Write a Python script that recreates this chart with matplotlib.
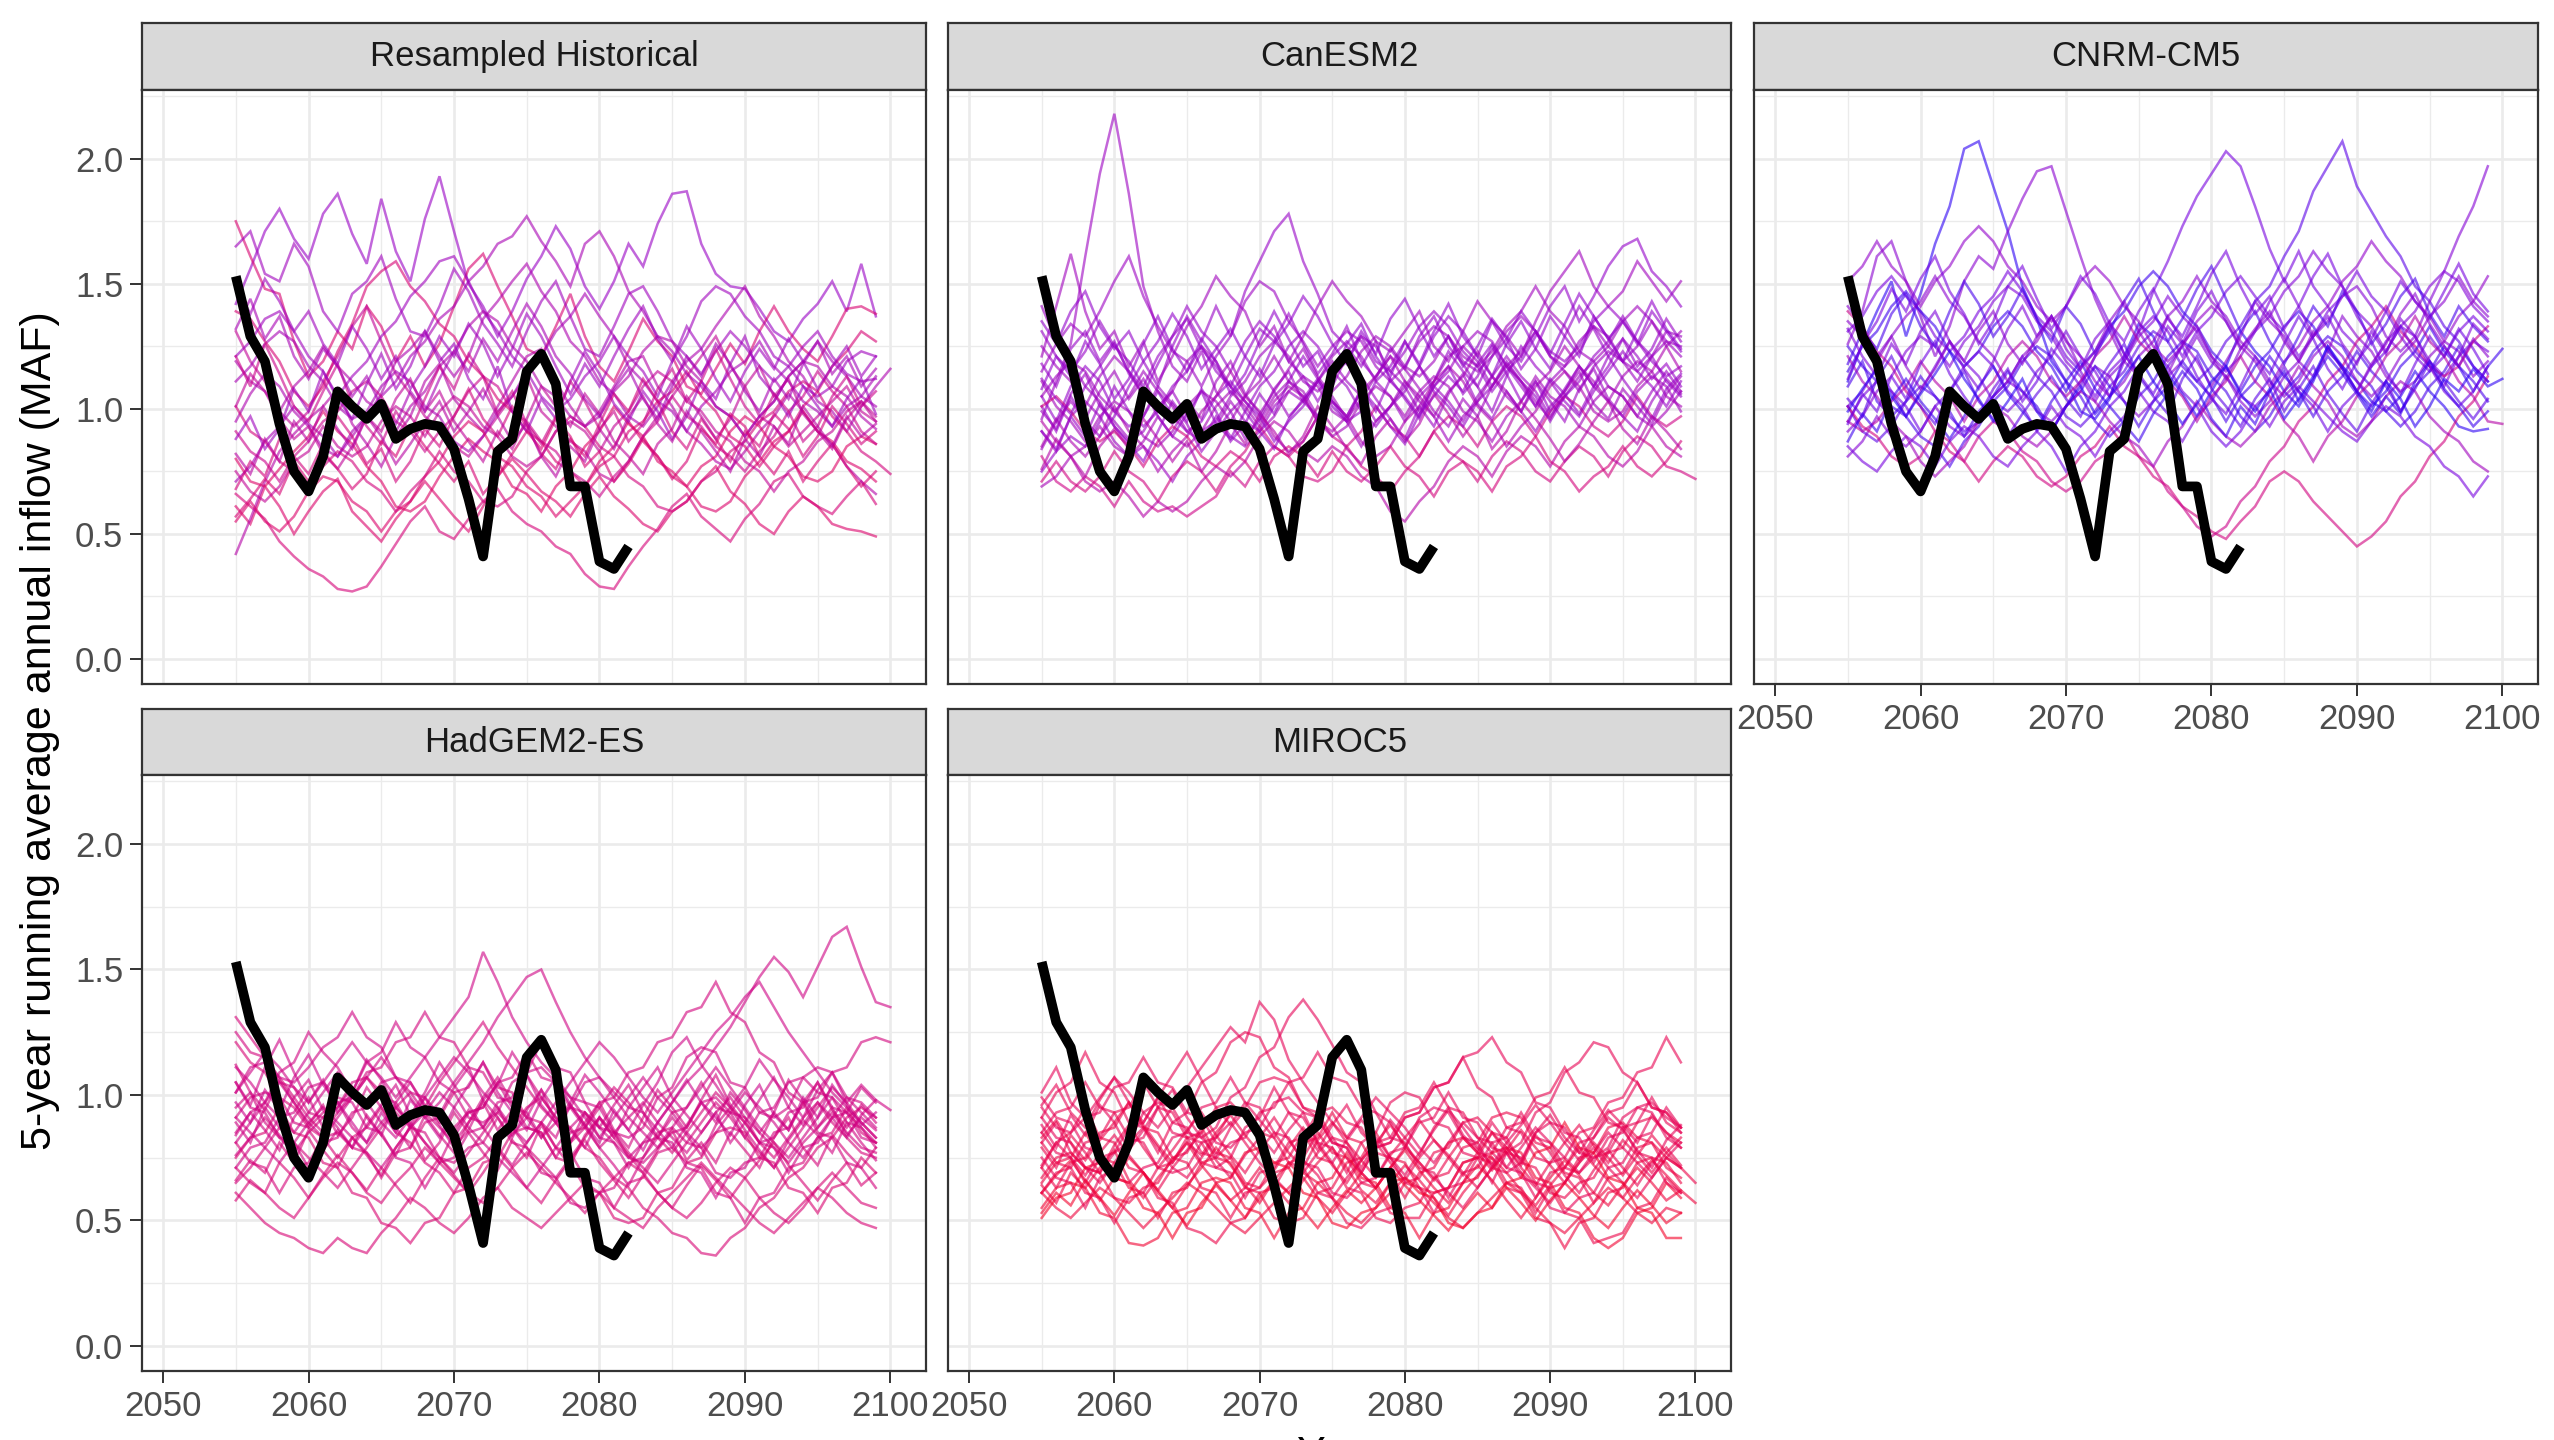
import numpy as np
import matplotlib
matplotlib.use("Agg")
import matplotlib.pyplot as plt
from matplotlib.colors import LinearSegmentedColormap
from matplotlib.ticker import MultipleLocator

plt.rcParams['font.family'] = ['Liberation Sans', 'DejaVu Sans']

# observed 5-year running average (MAF), starts 2055
OBS_START = 2055
OBSERVED = [1.53, 1.29, 1.19, 0.94, 0.75, 0.67, 0.81, 1.07, 1.01, 0.96, 1.02, 0.88, 0.92, 0.94,
            0.93, 0.84, 0.64, 0.41, 0.83, 0.88, 1.15, 1.22, 1.10, 0.69, 0.69, 0.39, 0.36, 0.45]

# ensemble traces, one per line, hundredths of MAF, starting 2055
TRACE_START = 2055

RESAMPLED_HIST = """
142 156 171 180 168 160 178 186 170 158 184 163 151 176 193 171 150 141 129 139 152 161 173 164 149 140 151 166 157 174 186 187 166 154 149 148 140 131 127 136 142 151 139 158 137
175 161 148 146 127 113 119 131 124 141 133 119 129 117 126 141 156 162 149 137 124 121 133 146 129 117 111 123 136 127 121 109 106 116 126 118 131 141 131 124 119 129 140 141 138
61 54 69 61 50 59 67 72 59 53 47 56 63 71 64 57 51 61 73 80 74 67 63 57 66 73 65 60 54 51 59 63 71 77 67 62 54 50 59 65 61 54 52 51 49
66 61 56 47 41 36 33 28 27 29 37 46 55 61 51 48 56 63 68 59 54 51 45 42 34 29 28 37 45 52 61 66 57 52 47 56 62 71 74 65 61 58 65 71 62
42 56 71 83 90 96 101 108 94 86 77 89 97 111 118 104 97 91 101 111 121 124 111 101 93 99 109 119 121 109 101 91 86 79 76 83 91 97 106 99 91 86 77 71 66
165 171 154 151 166 157 139 131 146 151 161 144 131 129 141 156 147 134 126 117 131 143 151 137 124 121 133 146 149 139 127 121 114 123 131 125 117 111 117 125 131 121 114 111 112
131 119 111 99 93 99 111 121 133 141 127 114 106 97 92 85 81 89 97 105 113 99 93 87 83 74 71 79 89 97 105 113 121 129 117 109 97 93 85 91 97 103 109 99 95
95 106 114 109 99 93 84 81 89 97 106 119 124 131 121 113 121 136 143 151 158 147 139 127 121 111 106 97 93 101 111 119 124 133 141 149 137 129 119 113 103 99 91 101 109 116
80 71 69 76 83 89 99 91 86 77 71 61 59 63 73 81 88 83 79 69 66 59 69 75 85 91 101 94 89 79 75 69 77 81 91 97 93 85 81 73 71 75 85 89 86
111 117 126 131 127 117 111 101 96 99 109 115 111 101 97 87 83 89 99 105 115 121 131 137 146 137 129 117 111 103 99 91 101 107 115 119 127 117 111 103 99 93 101 105 113
139 136 127 119 107 101 109 123 134 149 155 159 149 143 134 129 119 113 104 99 91 87 79 75 69 77 81 91 95 103 107 115 105 99 89 85 77 85 91 101 107 117 123 131 127
71 77 87 93 101 94 89 81 91 97 105 111 121 127 136 141 151 157 166 169 177 167 159 149 166 171 161 147 139 129 123 114 109 101 97 89 97 103 113 119 127 119 113 105 101
55 63 55 51 57 67 73 71 63 59 51 59 63 73 79 89 95 91 81 77 69 65 57 63 69 79 85 95 87 81 73 69 61 59 63 73 79 87 91 99 91 87 79 76 71
121 127 136 139 131 121 115 105 113 119 129 135 145 151 159 161 151 139 131 121 115 105 99 104 113 119 129 121 115 105 119 129 143 149 146 137 131 121 117 109 105 109 119 123 121
91 83 79 71 81 87 95 99 107 111 105 95 91 83 91 97 107 113 109 99 95 87 83 75 71 65 73 79 89 95 105 97 93 85 81 75 83 89 99 105 115 107 101 91 86
101 91 87 79 75 69 77 83 79 71 67 59 67 73 83 75 71 63 61 65 75 81 91 97 93 85 81 73 69 61 59 63 71 75 83 87 95 99 107 111 107 97 91 83 79 74
119 111 107 99 109 115 125 117 111 103 99 91 101 107 117 123 133 139 135 125 119 109 105 97 93 97 107 113 123 129 127 117 111 101 97 89 97 103 113 119 117 109 105 97 92
75 67 63 69 79 83 93 85 81 85 95 101 97 89 99 105 101 93 89 81 77 81 91 95 91 83 93 99 109 115 111 103 99 91 87 79 75 67 75 79 87 91 99 103 97
88 97 84 92 108 99 115 104 96 110 122 108 117 131 119 126 112 104 117 99 91 104 96 111 123 114 102 95 107 99 88 97 111 104 118 129 113 106 97 109 101 93 104 112 98
121 109 126 114 101 95 107 118 102 93 86 99 91 104 117 108 122 113 98 107 94 86 97 111 103 92 99 87 94 108 116 103 111 124 112 101 94 106 99 87 93 105 113 101 107
68 79 73 88 81 74 86 97 89 78 84 71 79 92 85 97 108 96 89 101 93 82 76 88 81 94 106 99 112 103 91 84 96 88 79 91 85 98 92 81 89 101 94 86 91
149 138 152 143 131 139 126 118 133 124 112 121 108 117 129 121 134 126 113 124 138 129 117 106 118 109 121 132 141 128 119 133 124 112 103 115 124 116 128 119 108 117 125 113 121
101 114 107 96 88 93 82 76 85 97 91 104 112 99 107 95 87 79 91 84 96 109 101 93 106 98 87 81 74 86 92 105 97 88 96 109 117 105 112 98 91 84 96 103 95
57 64 72 66 79 71 83 76 68 74 87 81 93 85 78 71 79 66 73 82 91 84 96 89 77 83 71 78 88 81 72 79 92 86 98 93 81 74 83 71 79 86 77 69 75
132 144 128 137 121 112 124 117 105 113 101 94 107 99 112 123 115 128 119 131 142 133 121 114 104 97 108 116 104 96 109 121 113 126 118 107 99 112 104 118 127 114 121 109 116
82 74 88 79 95 87 101 92 84 97 89 78 86 95 103 91 99 108 97 87 94 81 73 85 79 92 84 97 105 94 87 99 91 83 75 88 81 93 86 101 93 85 97 89 94
"""
HUE_RESAMPLED_HIST = [75, 38, 36, 42, 62, 72, 55, 66, 34, 68, 40, 68, 36, 72, 50, 44, 64, 55,
                      72, 50, 44, 72, 56, 40, 68, 60]

CANESM2 = """
96 111 126 161 194 218 186 149 131 117 111 123 107 99 105 116 107 97 103 111 119 111 105 95 101 109 117 109 103 95 105 113 121 113 107 97 105 113 119 109 105 97 107 115 107
101 91 105 95 89 97 109 119 109 125 137 127 141 129 147 159 171 178 159 146 131 125 117 127 111 105 97 111 123 115 109 99 113 125 117 111 103 97 107 115 123 115 109 101 111
121 141 162 139 124 131 117 127 111 121 133 141 153 145 139 125 133 119 129 141 151 143 137 127 123 131 139 125 119 131 143 135 129 121 135 147 155 163 149 141 147 159 151 143 151
105 95 109 117 111 99 93 97 107 97 91 95 105 111 103 97 87 95 101 111 101 95 99 111 117 127 117 129 137 131 121 135 125 119 129 141 149 135 145 157 165 168 155 149 141
81 71 67 73 69 61 71 63 59 61 57 61 65 75 69 79 85 81 87 97 89 85 91 101 93 89 81 91 97 93 85 95 101 97 89 99 105 101 93 89 95 105 97 93 97
91 83 97 103 97 87 81 85 79 71 81 87 97 89 85 91 101 107 103 111 121 127 121 111 105 95 105 111 121 125 119 109 117 123 131 121 115 107 117 123 119 111 121 127 121
71 79 71 67 73 83 75 71 63 73 79 75 67 77 83 93 85 81 73 71 75 85 77 73 67 75 81 91 83 79 71 81 87 83 75 71 79 85 81 73 83 89 85 77 75 72
131 121 115 123 135 125 119 109 121 129 141 131 125 115 127 135 129 119 113 103 113 119 129 119 115 123 133 139 133 123 117 107 115 121 131 123 119 125 135 141 135 127 119 113 117
111 101 95 87 97 103 99 89 85 91 101 107 103 95 105 111 121 111 105 95 89 93 103 109 105 97 107 113 109 99 95 87 97 103 113 105 101 93 103 109 105 97 93 99 107
85 96 87 81 89 101 91 85 75 83 89 99 105 115 105 99 89 83 87 97 103 97 87 81 85 95 101 111 117 111 101 95 85 93 99 109 115 109 99 95 99 109 115 125 115
95 87 81 71 67 71 65 57 63 59 63 71 77 73 79 89 95 91 83 79 85 81 73 69 59 55 63 69 79 85 81 73 83 89 85 77 87 93 89 81 77 83 93 85 81
115 126 134 129 139 151 161 145 133 123 119 109 121 129 143 151 147 135 127 117 125 131 127 117 111 117 127 133 129 119 115 121 131 137 131 121 117 123 133 125 119 125 135 127 125
101 105 99 91 87 91 85 77 87 93 89 81 77 83 79 71 81 85 81 73 83 75 71 77 85 77 73 65 75 79 75 67 77 81 89 79 75 67 73 77 85 77 73 79 87
125 117 111 101 113 121 115 105 99 107 119 125 119 109 103 95 105 111 107 97 107 113 123 129 125 117 113 119 129 121 117 123 133 139 149 139 133 123 119 125 135 141 135 125 131
75 83 89 85 95 109 99 93 99 109 115 125 115 109 99 109 115 125 131 125 115 109 99 93 101 107 117 107 101 93 103 109 119 111 105 95 105 111 121 127 137 127 121 111 105
105 113 119 115 105 99 105 115 107 101 91 87 93 103 95 91 97 107 113 109 99 95 85 95 101 111 103 97 87 97 103 113 105 99 91 101 107 117 109 103 97 107 113 109 99
69 73 81 85 93 85 81 87 97 89 85 91 101 107 101 93 103 109 105 95 91 97 107 113 121 111 105 97 107 113 123 113 107 99 109 115 125 117 111 103 113 119 115 105 101
141 127 119 109 103 93 87 91 101 107 97 91 95 105 111 121 127 121 111 107 113 123 129 125 115 109 99 109 115 125 131 127 117 111 101 111 117 127 133 129 119 115 121 131 129
108 121 113 127 118 104 112 126 137 124 115 128 119 106 114 127 139 128 117 123 111 126 134 121 113 127 118 131 142 129 121 113 126 135 124 116 129 121 137 128 119 131 143 132 124
91 84 97 89 102 93 86 79 91 103 95 108 99 87 94 106 98 111 121 112 103 95 108 99 112 104 96 109 117 106 113 125 114 103 111 99 108 117 109 121 112 104 96 108 114
118 109 124 131 119 127 114 106 118 129 136 124 117 109 121 132 127 138 126 114 122 133 119 112 124 116 129 137 125 118 109 121 128 116 124 137 129 141 132 121 128 117 124 136 127
76 88 81 73 85 92 84 96 88 79 87 75 83 94 86 98 91 82 89 101 93 84 78 89 96 87 94 106 98 89 97 84 91 103 96 88 79 86 95 103 92 86 97 91 84
135 126 139 147 133 124 131 119 127 138 129 116 124 132 121 113 126 134 145 137 126 118 131 122 136 144 132 121 129 117 125 136 128 139 131 122 134 146 137 128 135 126 139 131 123
99 92 106 114 101 95 88 97 109 102 94 83 91 99 88 96 108 115 103 97 109 121 113 104 96 88 101 93 106 114 102 96 107 99 111 103 95 108 116 104 97 91 103 112 106
112 104 98 109 117 126 115 108 97 89 98 107 94 88 99 91 84 96 104 112 103 97 108 101 93 86 98 105 113 107 118 126 117 109 101 112 106 98 109 117 128 121 112 118 109
84 95 103 96 107 115 104 112 101 94 103 96 111 119 106 98 107 116 124 113 105 96 104 113 121 116 108 99 93 104 97 109 118 111 103 96 107 115 102 96 108 101 94 106 113
"""
HUE_CANESM2 = [74, 76, 72, 77, 48, 74, 45, 76, 70, 66, 62, 74, 43, 72, 76, 72, 69, 74,
               78, 76, 76, 62, 78, 74, 76, 72]

CNRM_CM5 = """
111 126 139 151 129 146 166 181 204 207 189 171 149 136 119 111 99 96 104 121 134 129 114 106 97 107 117 131 123 117 107 101 111 125 117 111 103 99 105 115 107 101 93 91 92
126 139 161 167 151 137 121 133 151 161 156 171 184 195 197 179 161 144 131 119 113 123 137 127 119 109 119 129 143 135 129 119 113 123 137 129 123 113 107 111 121 127 123 113 119
95 105 111 107 97 107 117 127 119 113 103 99 105 115 121 131 121 115 105 119 131 147 159 173 185 194 203 197 181 164 151 163 149 141 131 125 117 127 133 129 119 113 121 127 123
101 91 87 93 103 109 105 97 91 95 105 111 121 113 107 97 93 99 109 115 125 131 127 117 111 117 127 133 143 149 161 171 187 197 207 189 179 169 161 149 143 133 127 117 111
81 87 97 89 85 91 101 93 89 95 105 111 107 99 95 101 111 117 113 103 97 103 113 119 129 119 113 103 97 103 113 119 129 135 145 149 141 129 123 129 143 155 169 181 197
101 93 89 81 77 81 91 83 79 71 79 85 81 73 69 73 81 85 93 85 81 73 69 61 57 51 48 55 61 71 75 71 63 57 51 45 49 55 65 71 81 87 97 103 113
139 133 123 117 107 101 91 87 79 89 95 91 83 79 71 67 71 79 83 91 81 77 67 61 53 49 53 63 69 79 85 95 101 111 117 127 133 141 131 125 117 113 117 127 133
131 137 147 153 145 139 129 123 129 139 145 155 147 137 131 121 115 105 115 121 131 137 131 121 131 137 147 153 145 137 131 121 129 139 145 155 145 139 129 121 115 121 131 137 131
109 119 103 97 103 113 105 99 89 99 105 115 107 101 91 101 107 117 109 103 93 103 109 119 111 105 95 105 111 121 113 107 97 107 113 123 115 109 99 109 115 125 117 111 103
91 97 107 113 123 129 125 117 127 133 143 149 145 135 129 119 113 103 113 119 129 135 145 137 131 121 115 121 131 137 147 153 163 155 149 139 133 123 133 139 149 155 151 141 135
125 117 111 101 97 89 85 77 87 93 103 109 119 125 121 111 105 95 89 95 105 111 121 127 123 113 107 97 91 97 107 113 123 129 125 115 109 99 93 99 109 115 125 117 111
151 157 167 157 151 141 151 157 167 173 167 157 151 141 135 141 151 157 151 141 135 125 119 125 135 141 135 125 119 109 119 125 135 141 151 157 167 159 153 143 137 127 137 143 153
85 79 75 83 89 85 77 87 93 89 81 77 85 91 101 93 89 81 91 97 107 99 95 87 97 103 113 105 101 93 103 109 103 97 91 87 95 101 97 89 85 77 73 65 73
115 125 131 141 147 139 133 123 117 123 133 139 133 123 117 107 117 123 133 139 149 155 149 139 133 123 117 107 117 123 133 139 133 123 117 107 101 107 117 123 133 123 117 107 117 124
101 107 117 107 101 91 101 107 117 123 117 107 101 91 85 75 85 91 101 107 117 123 117 107 101 91 85 91 101 107 117 107 101 91 101 107 117 123 133 123 117 107 101 107 117
135 129 119 129 137 143 153 143 137 127 121 111 121 127 137 127 121 111 105 111 121 127 137 143 153 143 137 127 121 111 105 111 121 127 121 111 105 111 121 127 137 143 153 143 137
95 91 95 103 109 119 111 105 95 105 111 121 127 121 111 105 111 121 127 137 127 121 111 105 95 105 111 121 111 105 95 89 79 89 95 105 111 121 127 137 127 121 111 105 95 94
121 111 105 95 89 79 73 79 85 95 101 97 89 85 91 101 107 103 95 89 85 77 87 93 103 95 89 85 91 101 107 117 109 103 93 89 95 105 111 107 97 91 87 79 75
118 131 124 138 146 133 125 139 151 142 129 137 148 136 127 141 134 122 131 143 152 139 127 136 148 157 144 131 139 127 118 129 141 133 147 139 126 134 145 152 138 129 141 133 127
94 106 99 113 104 118 127 114 105 97 108 116 103 111 124 117 109 121 133 122 114 106 117 125 113 104 98 109 121 114 126 137 128 116 108 119 127 115 106 118 129 121 132 124 114
132 121 113 126 118 131 139 127 116 108 119 132 141 129 137 124 116 128 135 122 113 121 133 126 139 147 135 124 131 143 152 141 129 137 126 118 131 122 136 129 117 109 121 134 128
104 97 112 121 109 101 94 107 115 103 96 89 98 106 113 104 97 109 118 126 113 105 98 112 121 108 101 93 104 112 99 108 117 106 98 91 102 111 99 108 119 111 103 96 104
112 126 135 148 139 152 161 147 138 126 135 149 157 144 132 141 153 146 134 127 139 148 136 129 141 154 163 149 138 145 132 141 153 162 149 137 128 139 151 143 136 147 158 146 139
87 98 91 104 112 103 96 88 97 109 117 106 99 92 103 111 119 108 101 94 87 98 106 115 108 96 89 101 94 107 115 103 112 121 114 106 97 105 98 111 119 108 101 93 99
141 133 121 129 117 108 116 127 119 131 139 126 118 129 137 128 116 123 135 143 131 122 114 126 133 121 112 124 132 139 127 119 131 124 116 107 118 126 138 146 134 125 117 128 121
99 108 116 105 97 106 114 123 112 104 95 103 112 99 91 101 109 98 105 113 121 111 103 94 102 111 117 106 99 108 96 104 113 125 116 107 99 111 104 93 101 112 107 116 109 112
"""
HUE_CNRM_CM5 = [95, 80, 86, 90, 82, 45, 50, 86, 92, 83, 92, 78, 86, 93, 88, 80, 62, 72,
                92, 88, 84, 90, 86, 93, 80, 95]

HADGEM2_ES = """
95 101 89 83 77 85 91 97 87 81 89 95 101 93 87 81 89 99 107 97 91 83 89 95 87 79 85 91 97 89 83 77 85 93 99 91 85 79 73 81 87 93 85 79 77
131 123 115 107 99 91 85 93 99 107 101 93 87 95 105 113 121 129 119 111 103 95 89 81 87 95 103 97 89 83 77 85 93 101 95 89 81 75 83 91 97 89 83 77 75
71 65 61 55 51 59 67 73 69 61 57 65 71 79 73 67 61 57 63 71 77 71 65 59 53 61 67 73 69 61 55 51 57 65 71 67 59 53 49 55 63 69 63 57 55
61 55 49 45 43 39 37 43 39 37 45 51 59 55 49 45 51 59 63 55 51 47 53 59 65 61 55 51 47 55 61 67 73 67 61 55 49 45 51 57 63 59 53 49 47
101 109 117 111 103 97 105 113 121 113 107 99 107 115 123 131 139 157 145 131 121 113 107 99 91 83 91 99 107 99 93 85 79 85 93 101 95 89 81 75 83 91 99 93 87
81 89 97 105 97 89 83 91 99 107 115 107 99 91 97 105 113 121 131 139 147 150 137 125 115 107 99 91 85 79 87 95 103 111 103 95 87 81 75 83 91 99 93 87 81
65 71 79 87 81 75 69 63 71 79 87 95 89 81 75 69 77 85 93 87 79 73 67 75 83 91 85 77 71 65 73 81 89 97 91 83 77 71 79 87 95 103 97 89 83
91 85 79 73 81 89 95 89 83 77 71 79 87 93 101 95 87 81 75 69 63 71 79 87 93 87 81 75 81 89 97 105 111 119 127 137 147 155 149 139 151 163 167 151 137 135
111 105 97 91 85 93 101 109 103 97 89 83 91 99 107 115 109 101 95 87 81 89 97 105 113 121 115 107 99 93 101 109 117 125 131 139 145 135 125 117 109 101 95 89 83
121 113 109 99 95 87 83 75 83 87 95 85 81 73 69 61 71 75 83 87 95 99 91 87 79 75 67 63 55 51 45 43 37 36 43 47 55 59 67 71 79 83 91 95 91
85 93 97 109 113 125 117 111 101 113 117 129 119 115 105 101 91 89 93 105 109 121 111 109 97 95 85 83 87 99 103 115 119 117 105 103 93 91 95 107 111 109 99 97 91
75 83 85 95 85 83 73 71 61 59 49 47 41 49 51 61 63 73 75 85 87 85 75 73 63 61 51 49 51 61 63 73 75 85 87 85 75 73 63 61 53 63 65 75 69
105 95 93 83 81 71 81 83 93 95 105 107 101 99 89 87 93 95 105 107 117 107 105 95 93 83 81 71 81 83 93 95 105 95 93 83 93 95 105 107 101 99 89 87 79
91 99 101 99 89 87 93 95 105 107 99 97 87 85 75 73 79 81 91 81 79 69 67 57 55 61 63 73 75 85 87 81 79 69 67 73 75 85 87 97 99 109 111 121 123 121
101 111 113 107 105 111 119 123 133 123 119 107 105 95 93 83 93 95 105 95 93 83 93 95 105 107 101 95 93 83 81 71 69 59 69 71 81 83 93 95 105 95 93 83 81
81 73 71 61 71 73 83 85 79 77 67 77 79 89 91 101 103 113 103 101 91 89 79 77 67 65 55 65 67 77 79 73 71 61 59 49 59 61 71 73 83 85 95 85 81
71 79 81 91 93 103 105 99 97 87 85 75 73 63 73 75 85 87 97 99 109 111 105 99 97 87 85 75 73 79 85 87 97 99 93 91 81 79 69 79 81 91 93 103 97
125 117 115 105 103 93 91 97 99 109 111 121 123 133 123 121 111 109 99 97 87 85 75 85 87 97 99 109 111 121 123 133 135 145 133 129 117 113 101 97 85 83 73 71 63
84 93 86 78 91 99 87 95 103 91 84 97 105 96 88 79 86 98 91 83 94 102 89 81 93 87 96 104 93 86 79 88 97 89 101 94 85 93 106 98 87 95 84 91 86
112 101 94 106 97 88 96 84 91 103 95 87 79 92 84 77 89 97 86 94 108 99 91 82 89 97 86 79 91 102 95 87 98 108 96 89 81 93 86 97 105 94 87 96 89
66 74 69 81 73 86 78 71 83 76 68 79 87 74 81 93 85 77 70 82 75 88 79 72 84 91 83 76 69 78 86 74 81 73 85 78 71 83 91 79 72 84 77 71 79
97 89 102 94 107 116 104 97 89 81 93 85 98 91 83 95 104 113 101 93 86 98 107 96 88 81 94 86 78 89 97 106 97 91 84 96 104 92 86 99 91 104 96 88 93
76 83 91 84 77 69 78 86 79 92 84 76 88 81 73 85 94 87 79 72 81 89 83 96 88 79 72 64 75 83 91 84 76 88 95 86 78 71 82 90 84 77 89 81 74
105 96 111 122 109 97 106 93 101 114 106 95 88 99 92 103 111 98 104 117 108 96 89 97 108 101 93 86 96 105 117 123 112 104 95 103 114 106 99 91 102 109 97 104 98
58 66 61 73 67 59 68 76 69 62 71 64 57 67 75 68 61 69 78 71 63 57 66 74 82 73 66 59 68 61 55 64 72 66 59 67 74 81 72 65 58 66 73 64 69
89 81 95 87 99 106 94 87 79 88 96 104 92 101 113 104 96 87 95 84 91 102 94 86 79 91 83 95 103 111 99 92 85 93 81 89 98 107 95 88 97 91 83 92 98 94
"""
HUE_HADGEM2_ES = [45, 42, 40, 40, 48, 47, 43, 47, 48, 40, 46, 38, 45, 44, 47, 42, 46, 44,
                  46, 44, 42, 50, 45, 48, 40, 47]

MIROC5 = """
81 89 77 71 65 73 81 87 79 71 67 75 83 89 81 73 67 61 69 77 83 75 69 63 71 79 73 67 61 55 63 71 77 69 63 57 65 73 79 71 65 59 67 75 71
101 111 97 91 99 107 101 93 87 95 103 111 119 127 121 137 130 114 105 97 89 83 91 99 93 87 79 73 81 89 83 77 71 79 87 81 75 69 77 85 79 73 67 75 81
61 55 51 57 63 59 53 47 53 59 65 61 55 49 45 51 57 63 69 65 59 53 49 55 61 67 63 57 51 47 53 59 65 61 55 49 45 51 57 63 59 53 49 55 53
71 81 85 95 83 81 71 69 59 57 47 45 41 49 51 61 63 73 75 85 77 75 65 63 53 51 51 61 63 73 75 85 77 75 65 63 53 51 41 43 45 55 57 67 61
91 83 81 71 69 77 81 93 97 95 85 83 87 99 103 115 119 131 138 130 120 109 105 93 89 79 91 95 93 83 81 71 69 73 85 89 87 77 75 79 91 95 93 83 79
75 67 65 55 67 71 81 83 95 85 83 73 71 75 87 91 103 93 91 81 79 69 81 85 97 101 99 89 87 77 75 65 77 81 93 97 109 113 121 119 109 105 95 93 85
65 73 75 85 75 73 63 61 51 61 63 73 75 73 63 61 51 49 51 61 63 73 75 85 75 73 63 61 63 73 75 73 63 61 51 49 39 49 51 61 63 73 75 73 65
85 93 95 105 95 93 83 81 71 69 71 81 83 93 95 105 107 105 95 93 83 81 71 81 83 93 95 105 95 93 83 81 71 69 59 69 71 81 83 93 95 105 95 93 87
55 63 65 63 53 51 41 40 43 53 55 65 67 65 55 53 43 53 55 65 67 77 67 65 55 53 43 53 55 65 67 77 79 77 67 65 55 53 43 39 43 53 55 65 59
91 101 105 117 105 101 89 87 77 89 93 105 109 121 125 123 111 107 95 91 81 79 69 79 81 91 93 103 105 115 103 99 87 85 75 73 75 85 87 97 99 109 111 123 113
71 63 73 75 85 87 97 87 85 75 73 63 61 51 61 63 73 75 85 75 73 63 61 51 49 55 57 67 69 79 81 91 93 91 81 79 69 67 57 67 69 79 81 75 71 65
81 73 71 61 59 49 59 61 71 73 83 85 95 97 91 85 83 73 71 61 59 49 47 53 55 65 67 77 79 89 91 85 83 73 71 61 59 65 67 77 79 89 91 85 81
61 69 71 81 83 93 95 105 95 93 83 81 71 69 59 69 71 81 83 93 95 89 87 77 75 65 63 53 63 65 75 77 87 89 99 101 111 101 99 89 87 77 75 65 61
99 91 89 79 77 67 65 71 73 83 85 95 97 107 97 95 85 83 73 71 61 59 65 67 77 79 89 91 101 91 89 79 77 67 65 55 53 59 61 71 73 83 85 95 87
51 59 61 71 73 67 65 55 53 43 53 55 65 67 77 79 73 71 61 59 49 47 53 55 65 67 61 59 49 47 53 55 65 67 77 79 89 79 77 67 65 55 53 43 43
85 77 75 65 75 77 87 89 99 89 87 77 75 81 83 93 95 105 107 117 107 105 95 93 83 81 71 69 59 69 71 81 83 93 83 81 71 69 75 77 87 89 99 89 85
67 75 77 71 69 59 57 63 65 75 77 87 77 75 65 63 69 71 81 83 93 83 81 71 69 59 69 71 81 83 77 75 65 63 53 63 65 75 77 87 89 83 81 71 67
95 87 85 91 93 103 105 115 105 103 93 91 81 79 85 87 97 99 93 91 81 79 69 79 81 91 93 103 105 115 117 123 113 109 97 95 85 83 73 83 85 95 97 91 87
72 81 75 68 77 84 76 69 62 71 78 85 74 67 76 83 91 82 74 68 59 67 74 81 73 66 75 82 76 69 63 71 79 72 84 77 68 61 70 78 71 64 73 79 72
64 57 69 63 71 78 66 59 67 74 81 72 65 58 63 71 64 57 66 73 79 71 62 57 65 72 66 59 52 61 68 75 69 62 56 64 71 79 72 66 59 67 74 68 62
88 79 92 84 96 89 78 86 95 102 91 83 76 87 94 84 77 86 93 81 73 82 90 83 75 68 77 86 94 87 79 72 81 88 96 89 81 74 83 91 86 78 71 82 88
53 61 56 66 59 52 61 69 62 55 48 57 64 58 51 59 66 61 54 47 55 62 57 63 71 64 58 52 46 54 61 55 63 57 50 58 65 59 52 47 55 62 56 49 53
79 71 84 77 69 80 88 79 71 78 86 93 84 76 69 78 85 77 71 82 89 81 74 67 76 83 90 82 75 68 77 85 79 71 64 73 81 88 80 73 82 76 69 77 83
96 104 93 87 98 107 97 89 99 108 117 106 95 88 97 90 83 93 86 78 88 96 85 79 90 83 76 87 95 84 78 89 81 74 85 92 83 77 86 94 88 81 92 85 79
61 68 74 66 58 67 75 69 61 55 64 71 79 72 64 57 66 73 67 59 53 61 69 63 71 78 70 63 57 65 72 66 58 51 59 67 74 68 61 56 64 71 65 58 62 57
83 90 81 74 82 89 97 88 80 73 81 76 85 92 84 77 70 79 87 80 72 65 74 81 88 80 73 66 75 83 77 70 78 86 79 72 65 73 81 75 68 76 84 77 71
"""
HUE_MIROC5 = [25, 28, 18, 22, 28, 26, 20, 25, 15, 25, 22, 23, 24, 27, 12, 26, 21, 27,
              24, 20, 27, 14, 23, 26, 18, 22]

PANEL_NAMES = ["Resampled Historical", "CanESM2", "CNRM-CM5", "HadGEM2-ES", "MIROC5"]
PANEL_TRACES = [RESAMPLED_HIST, CANESM2, CNRM_CM5, HADGEM2_ES, MIROC5]
PANEL_HUES = [HUE_RESAMPLED_HIST, HUE_CANESM2, HUE_CNRM_CM5, HUE_HADGEM2_ES, HUE_MIROC5]


def parse_traces(block):
    rows = []
    for line in block.strip().splitlines():
        rows.append(np.array([int(v) for v in line.split()]) / 100.0)
    return rows


# red -> blue gradient interpolated in Lab space (ggplot style)
red_blue = LinearSegmentedColormap.from_list(
    'red_blue', [(0.0, '#FF0000'), (0.25, '#E80050'), (0.5, '#CA0089'),
                 (0.75, '#9A00C3'), (0.875, '#7300E1'), (1.0, '#0000FF')])

W, H = 2554, 1440
fig = plt.figure(figsize=(W / 100, H / 100), dpi=100)
fig.patch.set_facecolor('white')


def px_axes(left, top, right, bottom):
    return fig.add_axes([left / W, 1 - bottom / H, (right - left) / W, (bottom - top) / H])


cols = [(142, 926), (948, 1731), (1754, 2538)]
rows = [(23, 90, 684), (709, 775, 1371)]  # strip top, panel top, panel bottom

obs_years = OBS_START + np.arange(len(OBSERVED))

for i, name in enumerate(PANEL_NAMES):
    r, c = divmod(i, 3)
    left, right = cols[c]
    s_top, p_top, p_bot = rows[r]

    strip = px_axes(left, s_top, right, p_top)
    strip.set_facecolor('#d9d9d9')
    strip.set_xticks([])
    strip.set_yticks([])
    for sp in strip.spines.values():
        sp.set_color('#333333')
        sp.set_linewidth(1.6)
    strip.text(0.5, 0.5, name, ha='center', va='center', fontsize=25, color='#1a1a1a',
               transform=strip.transAxes)

    ax = px_axes(left, p_top, right, p_bot)
    ax.set_xlim(2048.55, 2102.45)
    ax.set_ylim(-0.1, 2.275)
    ax.xaxis.set_major_locator(MultipleLocator(10))
    ax.xaxis.set_minor_locator(MultipleLocator(5))
    ax.yaxis.set_major_locator(MultipleLocator(0.5))
    ax.yaxis.set_minor_locator(MultipleLocator(0.25))
    ax.grid(which='major', color='#ebebeb', linewidth=1.9)
    ax.grid(which='minor', color='#ebebeb', linewidth=0.95)
    ax.set_axisbelow(True)
    for sp in ax.spines.values():
        sp.set_color('#333333')
        sp.set_linewidth(1.6)

    traces = parse_traces(PANEL_TRACES[i])
    hues = PANEL_HUES[i]
    for vals, h in zip(traces, hues):
        yrs = TRACE_START + np.arange(len(vals))
        ax.plot(yrs, vals, color=red_blue(h / 100.0), alpha=0.6, linewidth=1.8,
                solid_joinstyle='miter')
    ax.plot(obs_years, OBSERVED, color='black', linewidth=7.0, solid_joinstyle='round',
            solid_capstyle='butt', zorder=5)

    show_x = (r == 1) or (i == 2)
    show_y = (c == 0)
    ax.tick_params(which='minor', length=0)
    ax.tick_params(axis='x', which='major', length=8.5 if show_x else 0, width=1.4,
                   color='#333333', labelcolor='#4d4d4d', labelsize=25, pad=5,
                   labelbottom=show_x)
    ax.tick_params(axis='y', which='major', length=8.5 if show_y else 0, width=1.4,
                   color='#333333', labelcolor='#4d4d4d', labelsize=25, pad=5,
                   labelleft=show_y)
    if show_y:
        ax.set_yticklabels(['%.1f' % v for v in ax.get_yticks()])

fig.text(40 / W, 1 - 731 / H, '5-year running average annual inflow (MAF)', rotation=90,
         ha='center', va='center', fontsize=31, color='black')
fig.text(1340 / W, 1 - 1435 / H, 'Year', ha='center', va='top', fontsize=31, color='black')

fig.savefig('out.png', dpi=100, facecolor='white')
